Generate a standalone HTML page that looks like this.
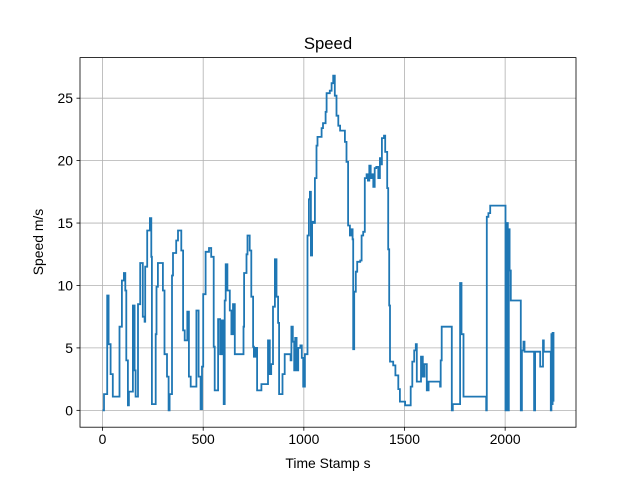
<!DOCTYPE html>
<html><head><meta charset="utf-8"><style>
body{margin:0;background:#fff;}
svg{display:block;font-family:"Liberation Sans","DejaVu Sans",sans-serif;}
</style></head><body>
<svg id="chart" width="640" height="480">
<rect width="640" height="480" fill="#fff"/>
<g id="grid"></g>
<g id="series"></g>
<rect x="80" y="57.6" width="496" height="369.6" fill="none" stroke="#000" stroke-width="0.8"/>
<g id="ticks"></g>
<text x="328" y="49" font-size="16.7" text-anchor="middle">Speed</text>
<text x="328" y="468" font-size="13.9" text-anchor="middle">Time Stamp s</text>
<text x="0" y="0" font-size="13.9" text-anchor="middle" transform="translate(43,242) rotate(-90)">Speed m/s</text>
</svg>
<script>
const times=[0,6,7,23,30,40,51,84,96,106,113,118,126,131,151,159,164,176,187,200,209,212,222,235,242,245,264,268,275,292,300,308,320,328,333,345,350,366,375,391,400,408,421,429,438,466,477,487,494,500,512,529,540,552,557,574,584,590,598,602,607,612,620,632,640,648,657,695,700,703,715,720,731,739,748,752,760,768,789,822,831,838,847,856,864,872,877,894,905,930,934,938,945,952,957,964,972,983,990,997,1005,1016,1018,1025,1030,1035,1041,1048,1055,1063,1068,1088,1095,1108,1113,1129,1138,1146,1154,1162,1171,1180,1195,1204,1212,1220,1229,1236,1242,1245,1250,1258,1265,1280,1287,1295,1303,1312,1318,1325,1332,1338,1345,1352,1360,1370,1378,1383,1388,1398,1404,1414,1419,1424,1428,1444,1455,1469,1477,1503,1531,1539,1548,1556,1561,1578,1582,1591,1600,1611,1620,1677,1680,1685,1730,1735,1740,1773,1776,1783,1793,1906,1909,1917,1926,1997,2002,2009,2013,2018,2022,2028,2075,2078,2083,2091,2096,2141,2144,2149,2170,2174,2182,2188,2192,2224,2227,2230,2232,2236,2240];
const speeds=[0,0,1.3,9.2,5.3,2.9,1.1,6.7,10.4,11,9.6,4,0.4,1.5,8.4,3.2,1.1,8.5,11.8,7.5,7.1,11.5,14.4,15.4,12.3,0.5,6.1,9.9,11.8,11.8,9.6,4.5,2.7,0,1.3,10.8,12.6,13.6,14.4,12.8,6.4,5.6,7.9,2.7,1.9,8,2.7,0.1,3.5,9.3,12.7,13,12.3,5.1,1.6,7.3,4.5,7.2,4.5,0.5,8.8,11.7,9.6,8,6.1,8.5,4.5,4.5,6.7,11,12.5,14,12.8,9.1,5.1,4.3,5,1.6,2.1,5.6,2.9,3.7,8.3,12.1,9.1,7,1.3,2.9,4.5,4.5,4,6.7,5.5,3.2,5.8,3.2,5,5.2,4.2,1.9,4.5,4.5,14,16.9,17.5,12.4,15.1,15,18.6,21.2,21.9,22.6,23,23.9,25.4,25.6,26.2,26.8,25.2,23.6,22.8,22.4,22.4,21.5,19.9,14.8,14,14.5,13.7,4.9,9.5,11.1,11.9,12,14,14.3,18.6,18.9,18.4,19.6,18.6,18.9,17.9,19.4,19.5,18.6,20.2,19.7,21.8,22,20.7,17.8,12.9,8.4,3.9,3.6,2.8,1.7,0.7,0.4,1.9,3.9,4.8,5.3,2.3,2.3,4.3,2.7,3.7,1.6,2.3,1.9,4,6.7,6.7,0,0.5,0.5,10.2,6.1,1.1,0,15.5,15.8,16.4,16.4,0,15,0,14.5,11.2,8.8,8.8,0,4.8,5.5,4.7,4.7,0,4.7,4.7,3.5,3.5,5.6,4.7,4.7,0,6.1,0.5,6.2,0.7];
const xTicks=[0,500,1000,1500,2000];
const yTicks=[0,5,10,15,20,25];
const X0=-112,X1=2352,Y0=-1.35,Y1=28.25;
const L=80,R=576,T=57.6,B=427.2;
function sx(t){return L+(t-X0)/(X1-X0)*(R-L);}
function sy(v){return B-(v-Y0)/(Y1-Y0)*(B-T);}
const NS='http://www.w3.org/2000/svg';
const grid=document.getElementById('grid'),ticks=document.getElementById('ticks'),ser=document.getElementById('series');
function mk(tag,attrs,parent){const e=document.createElementNS(NS,tag);for(const k in attrs)e.setAttribute(k,attrs[k]);parent.appendChild(e);return e;}
xTicks.forEach(t=>{const x=sx(t);
 const g=mk('line',{x1:x,x2:x,y1:T,y2:B,stroke:'#b0b0b0','stroke-width':0.8},grid);
 
 
 const tk=mk('line',{x1:x,x2:x,y1:B,y2:B+3.5,stroke:'#000','stroke-width':0.8},ticks);
 
 
 const lb=mk('text',{x:x,y:B+17,'font-size':13.9,'text-anchor':'middle'},ticks);lb.textContent=t;
 
 
});
yTicks.forEach(v=>{const y=sy(v);
 const g=mk('line',{x1:L,x2:R,y1:y,y2:y,stroke:'#b0b0b0','stroke-width':0.8},grid);
 
 
 const tk=mk('line',{x1:L-3.5,x2:L,y1:y,y2:y,stroke:'#000','stroke-width':0.8},ticks);
 
 
 const lb=mk('text',{x:L-7,y:y+5,'font-size':13.9,'text-anchor':'end'},ticks);lb.textContent=v;
 
 
});
const n=Math.min(times.length,speeds.length);
const parts=[];
for(let i=0;i<n;i++){
 if(i>0)parts.push(sx(times[i]).toFixed(1)+','+sy(speeds[i-1]).toFixed(1));
 parts.push(sx(times[i]).toFixed(1)+','+sy(speeds[i]).toFixed(1));
}
const pl=mk('polyline',{points:parts.join(' '),fill:'none',stroke:'#1f77b4','stroke-width':1.8,'stroke-linejoin':'miter'},ser);


</script>
</body></html>
